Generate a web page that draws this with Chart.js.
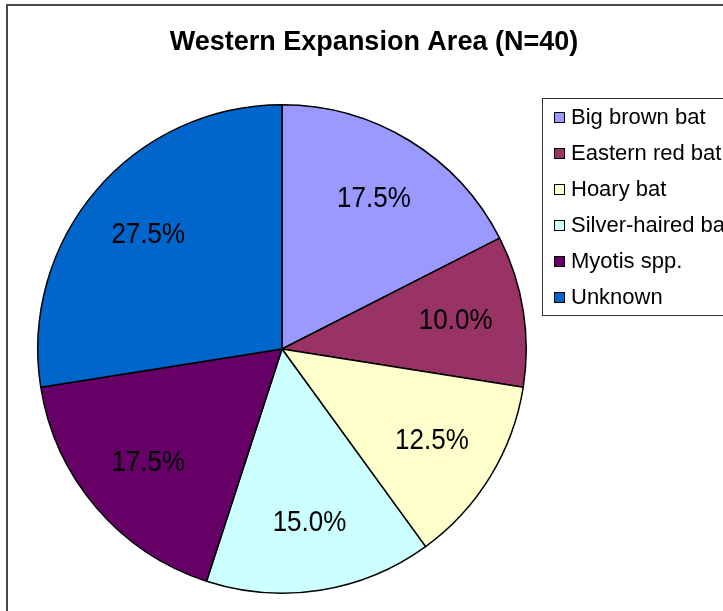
<!DOCTYPE html>
<html>
<head>
<meta charset="utf-8">
<script src="https://cdn.jsdelivr.net/npm/chart.js@4"></script>
<style>
  html, body { margin: 0; padding: 0; background: #fff; }
  canvas { display: block; }
</style>
</head>
<body>
<canvas id="chart" width="723" height="611"></canvas>
<script>
// bat counts, N=40
const titleText = 'Western Expansion Area (N=40)';
const categories = ['Big brown bat', 'Eastern red bat', 'Hoary bat', 'Silver-haired bat', 'Myotis spp.', 'Unknown'];
const counts = [7, 4, 5, 6, 7, 11];
const sliceColors = ['#9999FF', '#993366', '#FFFFCC', '#CCFFFF', '#660066', '#0066CC'];

const FONT = '"Liberation Sans", Arial, sans-serif';

// frame, title, legend box and percent labels drawn by hand
const decorations = {
  id: 'decorations',
  beforeDraw(chart) {
    const ctx = chart.ctx;
    ctx.save();
    ctx.fillStyle = '#fff';
    ctx.fillRect(0, 0, chart.width, chart.height);
    ctx.strokeStyle = '#4a4a4a';
    ctx.lineWidth = 2;
    ctx.strokeRect(7, 5, chart.width + 20, chart.height + 20);
    ctx.restore();
  },
  afterDraw(chart) {
    const ctx = chart.ctx;
    const ds = chart.data.datasets[0];
    const total = ds.data.reduce((a, b) => a + b, 0);
    ctx.save();

    // title
    ctx.fillStyle = '#000';
    ctx.font = 'bold 27px ' + FONT;
    ctx.textAlign = 'center';
    ctx.textBaseline = 'middle';
    ctx.fillText(titleText, 374, 43);

    // percentages (slightly tall, like the original)
    ctx.font = '26px ' + FONT;
    chart.getDatasetMeta(0).data.forEach((arc, i) => {
      const p = arc.getProps(['x', 'y', 'startAngle', 'endAngle', 'outerRadius'], true);
      const mid = (p.startAngle + p.endAngle) / 2;
      const r = p.outerRadius * 0.72;
      const pct = (ds.data[i] / total * 100).toFixed(1) + '%';
      const tx = p.x + Math.cos(mid) * r;
      const ty = p.y + Math.sin(mid) * r;
      ctx.save();
      ctx.translate(tx, ty);
      ctx.scale(1, 1.1);
      ctx.fillText(pct, 0, 0);
      ctx.restore();
    });

    // legend
    const lx = 542, ly = 98, rowH = 36;
    ctx.fillStyle = '#fff';
    ctx.fillRect(lx, ly, chart.width, 217);
    ctx.strokeStyle = '#333';
    ctx.lineWidth = 1;
    ctx.strokeRect(lx + 0.5, ly + 0.5, chart.width, 217);
    ctx.font = '22px ' + FONT;
    ctx.textAlign = 'left';
    chart.data.labels.forEach((lab, i) => {
      const cy = ly + 19 + i * rowH;
      ctx.fillStyle = ds.backgroundColor[i];
      ctx.fillRect(554, cy - 5, 11, 11);
      ctx.strokeStyle = '#000';
      ctx.strokeRect(554.5, cy - 4.5, 10, 10);
      ctx.fillStyle = '#000';
      ctx.fillText(lab, 571, cy + 1);
    });
    ctx.restore();
  }
};

new Chart(document.getElementById('chart'), {
  type: 'pie',
  data: {
    labels: categories,
    datasets: [{
      data: counts,
      backgroundColor: sliceColors,
      borderColor: '#000',
      borderWidth: 1.5
    }]
  },
  options: {
    responsive: false,
    animation: false,
    layout: { padding: { left: 37, right: 196, top: 104, bottom: 17 } },
    plugins: {
      legend: { display: false },
      title: { display: false },
      tooltip: { enabled: false }
    }
  },
  plugins: [decorations]
});
</script>
</body>
</html>
